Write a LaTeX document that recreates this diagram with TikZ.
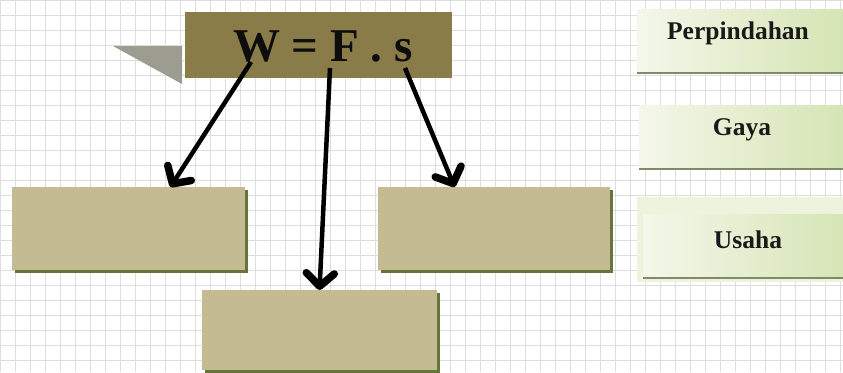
\documentclass[tikz,border=0pt]{standalone}
\usepackage{fontspec}
\setmainfont{Liberation Serif}
\usetikzlibrary{arrows.meta,calc,shadows}

\definecolor{gridgray}{HTML}{DEDEDE}
\definecolor{olivebox}{HTML}{8A7C48}
\definecolor{tanbox}{HTML}{C5BB93}
\definecolor{edgegreen}{HTML}{66753A}
\definecolor{flaggray}{HTML}{9C9C90}
\definecolor{btnlight}{HTML}{F4F7EA}
\definecolor{btngreen}{HTML}{D3E3B0}
\definecolor{btnedge}{HTML}{7F8A66}
\definecolor{btnglow}{HTML}{EDF3DC}

\tikzset{
  tanblock/.style={rectangle, fill=tanbox, inner sep=0pt, outer sep=0pt,
    drop shadow={shadow xshift=2.5pt, shadow yshift=-2.5pt, fill=edgegreen, opacity=1}},
  titleblock/.style={rectangle, fill=olivebox, inner sep=0pt, outer sep=0pt},
  button/.style={rectangle, left color=btnlight, right color=btngreen,
    inner sep=0pt, outer sep=0pt,
    drop shadow={shadow xshift=0pt, shadow yshift=-2.5pt, fill=btnedge, opacity=1}},
  btntext/.style={font=\fontsize{25.5}{28}\selectfont\bfseries, text=black!90},
  arr/.style={line width=4.5pt, black,
    -{Straight Barb[length=13pt,width=28pt,line width=7.5pt,round]}}
}

\begin{document}
\begin{tikzpicture}[x=1pt,y=-1pt]
\useasboundingbox (0,0) rectangle (843,372);
\clip (0,0) rectangle (843,372);

% paper background with grid
\fill[white] (0,0) rectangle (843,372);
\foreach \gx in {0,15,...,840} \draw[gridgray, line width=0.7pt] (\gx,0) -- (\gx,372);
\foreach \gy in {0,15,...,360} \draw[gridgray, line width=0.7pt] (0,\gy) -- (843,\gy);

% grey flag beside the formula box
\fill[flaggray] (113,46) -- (182,46) -- (182,84) -- cycle;

% formula box
\node[titleblock, minimum width=267pt, minimum height=66pt] (title) at (318.5,45) {};
\node[font=\fontsize{47}{50}\selectfont\bfseries, text=black!95] (formula) at (323,46) {W = F . s};

% empty answer boxes
\node[tanblock, minimum width=233pt, minimum height=83pt] (boxL) at (128.5,228.5) {};
\node[tanblock, minimum width=232pt, minimum height=83pt] (boxR) at (494,228.5) {};
\node[tanblock, minimum width=235pt, minimum height=80pt] (boxB) at (319.5,330) {};

% arrow start points under the symbols
\coordinate (sW) at (251,62);
\coordinate (sF) at (330,68);
\coordinate (sS) at (405,68);

\draw[arr] (sW) -- ($(boxL.north west)!0.68!(boxL.north east)$);
\draw[arr] (sF) -- ($(boxB.north west)!0.5!(boxB.north east)$);
\draw[arr] (sS) -- ($(boxR.north west)!0.33!(boxR.north east)$);

% answer choices on the right
\fill[btnglow] (637,197) rectangle (850,282);
\node[button, minimum width=220pt, minimum height=62pt, anchor=north west] (btnP) at (637,9) {};
\node[button, minimum width=220pt, minimum height=62pt, anchor=north west] (btnG) at (639,105) {};
\node[button, minimum width=220pt, minimum height=62pt, anchor=north west] (btnU) at (643,214) {};

\node[btntext] (tP) at (738,33) {Perpindahan};
\node[btntext] (tG) at (742,130) {Gaya};
\node[btntext] (tU) at (748,240) {Usaha};
\end{tikzpicture}
\end{document}
